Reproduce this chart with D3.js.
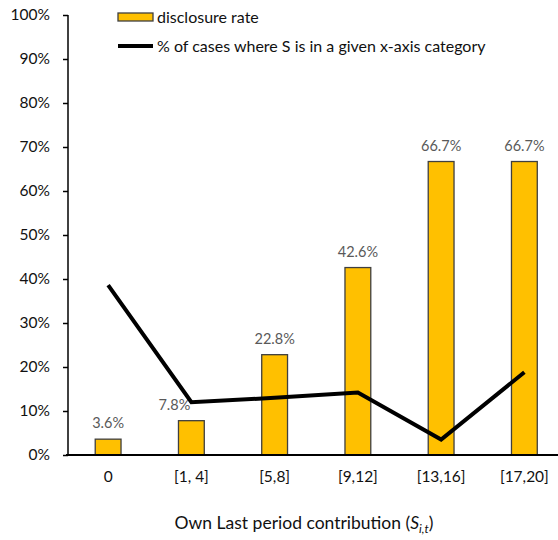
<!DOCTYPE html>
<html><head><meta charset="utf-8">
<script src="https://cdn.jsdelivr.net/npm/d3@7"></script>
<style>body{margin:0;background:#fff;} svg{display:block;font-family:Lato,"Liberation Sans",sans-serif;}</style>
</head><body>
<svg id="c" width="558" height="540"></svg>
<script>
const categories = ["0","[1, 4]","[5,8]","[9,12]","[13,16]","[17,20]"];
const disclosureRate = [3.6, 7.8, 22.8, 42.6, 66.7, 66.7];
const caseShare = [38.6, 12.0, 13.0, 14.2, 3.5, 18.8];
const yTicks = [0,10,20,30,40,50,60,70,80,90,100];

const svg = d3.select("#c");
const x = d3.scaleBand().domain(categories).range([66.5, 566]).paddingInner(0.69).paddingOuter(0.345);
const xc = d => x(d) + x.bandwidth()/2;
const y = d3.scaleLinear().domain([0,100]).range([455, 15]);

// bars
svg.append("g").selectAll("rect").data(categories).join("rect")
  .attr("x", d => x(d)).attr("width", x.bandwidth())
  .attr("y", (d,i) => y(disclosureRate[i])).attr("height", (d,i) => y(0) - y(disclosureRate[i]))
  .attr("fill", "#FFC000").attr("stroke", "#3f3f3f").attr("stroke-width", 1.3);

// data labels
svg.append("g").selectAll("text").data(categories).join("text")
  .attr("x", (d,i) => xc(d) + (i===1 ? -17 : 0))
  .attr("y", (d,i) => y(disclosureRate[i]) - 16)
  .attr("dy", "0.35em").attr("text-anchor", "middle")
  .attr("font-size", 14.5).attr("fill", "#595959")
  .text((d,i) => disclosureRate[i].toFixed(1) + "%");

// y axis
const yAxis = d3.axisLeft(y).tickValues(yTicks).tickFormat(d => d + "%").tickSize(5).tickPadding(13);
const gy = svg.append("g").attr("transform", "translate(68,0)").call(yAxis);
gy.select(".domain").attr("stroke", "#000").attr("stroke-width", 1.5).attr("d", "M0,455V15");
gy.selectAll(".tick line").attr("stroke", "#000").attr("stroke-width", 1.5);
gy.selectAll(".tick text").attr("font-size", 15.5).attr("fill", "#111").attr("font-family", "Lato,sans-serif");

// x axis
const xAxis = d3.axisBottom(x).tickSize(0).tickPadding(16);
const gx = svg.append("g").attr("transform", "translate(0,455)").call(xAxis);
gx.select(".domain").attr("stroke", "#000").attr("stroke-width", 2).attr("d", "M66,0H558");
gx.selectAll(".tick text").attr("font-size", 15.5).attr("fill", "#111").attr("font-family", "Lato,sans-serif");

// line
const line = d3.line().x((d,i) => xc(categories[i])).y(d => y(d));
svg.append("path").datum(caseShare).attr("d", line)
  .attr("fill", "none").attr("stroke", "#000").attr("stroke-width", 4).attr("stroke-linejoin", "miter");

// axis title
const t = svg.append("text").attr("x", 304).attr("y", 523).attr("dy", "0.35em")
  .attr("text-anchor", "middle").attr("font-size", 17.5).attr("fill", "#111");
t.append("tspan").text("Own Last period contribution (");
t.append("tspan").attr("font-style", "italic").text("S");
t.append("tspan").attr("font-style", "italic").attr("font-size", 12).attr("dy", 4).text("i,t");
t.append("tspan").attr("dy", -4).text(")");

// legend
const lg = svg.append("g");
lg.append("rect").attr("x", 118).attr("y", 13).attr("width", 35).attr("height", 8)
  .attr("fill", "#FFC000").attr("stroke", "#3f3f3f").attr("stroke-width", 1.3);
lg.append("text").attr("x", 157).attr("y", 17).attr("dy", "0.35em").attr("font-size", 16).attr("fill", "#111").text("disclosure rate");
lg.append("line").attr("x1", 118).attr("x2", 153).attr("y1", 46).attr("y2", 46).attr("stroke", "#000").attr("stroke-width", 4);
lg.append("text").attr("x", 157).attr("y", 46).attr("dy", "0.35em").attr("font-size", 16).attr("fill", "#111").text("% of cases where S is in a given x-axis category");
</script>
</body></html>
